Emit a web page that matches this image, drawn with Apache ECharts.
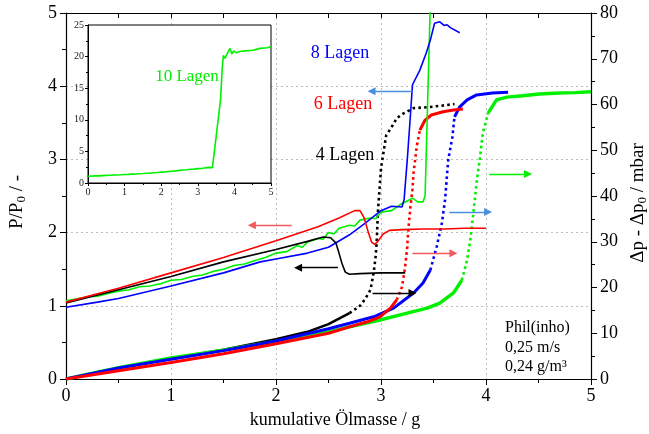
<!DOCTYPE html>
<html>
<head>
<meta charset="utf-8">
<script src="https://cdn.jsdelivr.net/npm/echarts@6/dist/echarts.min.js"></script>
<style>html,body{margin:0;padding:0;background:#fff}#c{width:649px;height:434px}</style>
</head>
<body>
<div id="c"></div>
<script>
// Cumulative oil mass [g] vs. relative penetration P/P0 (left axis) and
// pressure-drop increase [mbar] (right axis) for 4, 6, 8 and 10 layers.

const xTicks = [0, 1, 2, 3, 4, 5];
const leftTicks = [0, 1, 2, 3, 4, 5];
const rightTicks = [0, 10, 20, 30, 40, 50, 60, 70, 80];

// P/P0 curves
const penetr4 = [[0,1.04],[0.5,1.22],[1,1.4],[1.5,1.6],[2,1.77],[2.3,1.88],[2.45,1.94],[2.52,1.93],[2.57,1.86],[2.6,1.72],[2.63,1.57],[2.66,1.46],[2.7,1.43],[2.8,1.44],[3.0,1.45],[3.23,1.45]];
const penetr6 = [[0,1.05],[0.5,1.24],[1,1.45],[1.5,1.66],[2,1.89],[2.4,2.08],[2.6,2.2],[2.75,2.3],[2.8,2.3],[2.84,2.2],[2.88,2.0],[2.91,1.87],[2.94,1.84],[2.97,1.88],[3.02,1.98],[3.08,2.03],[3.2,2.04],[3.4,2.05],[3.6,2.05],[3.8,2.06],[4.0,2.06]];
const penetr8 = [[0,0.98],[0.3,1.05],[0.5,1.1],[1,1.27],[1.5,1.45],[1.85,1.6],[2,1.64],[2.3,1.72],[2.5,1.8],[2.7,1.97],[2.85,2.13],[3.0,2.3],[3.1,2.36],[3.2,2.35],[3.22,2.45],[3.25,2.99],[3.28,3.6],[3.3,4.02],[3.37,4.22],[3.43,4.45],[3.47,4.63],[3.51,4.86],[3.56,4.88],[3.6,4.83],[3.63,4.84],[3.66,4.8],[3.75,4.73]];
const penetr10 = [[0,1.07],[0.2,1.12],[0.3,1.13],[0.4,1.17],[0.5,1.2],[0.6,1.22],[0.7,1.26],[0.8,1.27],[0.9,1.3],[1,1.35],[1.1,1.36],[1.2,1.4],[1.3,1.42],[1.4,1.47],[1.5,1.5],[1.6,1.55],[1.7,1.57],[1.8,1.62],[1.9,1.66],[2.0,1.72],[2.1,1.74],[2.2,1.82],[2.25,1.8],[2.3,1.87],[2.4,1.92],[2.45,1.91],[2.5,2.0],[2.55,1.98],[2.6,2.06],[2.7,2.1],[2.75,2.09],[2.8,2.17],[2.9,2.2],[2.95,2.19],[3.0,2.28],[3.1,2.3],[3.18,2.38],[3.3,2.47],[3.35,2.42],[3.4,2.42],[3.42,2.5],[3.62,13.1],[3.67,18.4],[3.7,20.2],[3.74,19.7],[3.78,19.4],[3.83,20.8],[3.88,21.3],[3.93,20.4],[3.98,20.9],[4.05,20.6],[4.15,20.8],[4.3,20.9],[4.5,21.0],[4.7,21.3],[4.9,21.4],[5,21.6]];

// Δp - Δp0 curves [mbar]
const dp4 = [[0,0],[0.3,1.4],[0.6,2.8],[1,4.5],[1.5,6.4],[2,8.7],[2.3,10.3],[2.5,12.0],[2.7,14.4],[2.8,16],[2.85,17.5],[2.9,19.5],[2.93,23.2],[2.95,27],[2.96,30.4],[2.97,36.3],[2.99,42.8],[3.0,46],[3.02,49],[3.05,53.3],[3.1,55],[3.15,57],[3.21,58],[3.31,59.2],[3.44,59.4],[3.56,59.7],[3.7,60.1]];
const dp6 = [[0,0],[0.5,1.8],[1,3.6],[1.5,5.5],[2,7.7],[2.5,10],[2.7,11.4],[2.87,12.5],[2.99,13.6],[3.09,15.5],[3.15,17.3],[3.2,20.1],[3.23,24.5],[3.25,28.9],[3.26,32.6],[3.28,37.6],[3.3,41.5],[3.31,45],[3.34,50.8],[3.37,54.4],[3.42,56.6],[3.48,57.7],[3.59,58.4],[3.69,58.8],[3.78,59]];
const dp8 = [[0,0],[0.5,2.4],[1,4.3],[1.5,6.2],[2,8.3],[2.5,11],[2.7,12.2],[2.93,13.6],[3.12,15.5],[3.31,18.8],[3.4,21],[3.47,23.8],[3.53,28.9],[3.58,34.1],[3.61,39.1],[3.64,47.9],[3.68,52.9],[3.7,57.3],[3.75,59.5],[3.82,61],[3.91,62.1],[4.06,62.5],[4.21,62.7]];
const dp10 = [[0,0],[0.5,2.5],[1,4.6],[1.5,6.3],[2,8.2],[2.5,10.3],[2.7,11.4],[2.99,12.9],[3.25,14.4],[3.44,15.5],[3.56,16.6],[3.69,18.8],[3.77,21.6],[3.82,26],[3.85,30.4],[3.88,36.3],[3.91,42.8],[3.94,47.9],[3.97,53.8],[4.02,58.1],[4.1,61],[4.2,61.6],[4.35,61.9],[4.51,62.3],[4.7,62.5],[4.85,62.6],[5,62.8]];

const FONT = 'Liberation Serif';
const RED = '#ff0000', BLUE = '#0000ff', GREEN = '#00f000', BLACK = '#000000';

// x-range where each pressure curve is drawn as separated dots
const dotRange = { dp4: [2.7, 9], dp6: [3.15, 3.37], dp8: [3.47, 3.7], dp10: [3.77, 4.02] };

// index span [i0, i1] of the points covering the dotted range
function span(arr, r) {
  let i0 = 0, i1 = arr.length - 1;
  for (let i = 0; i < arr.length; i++) if (arr[i][0] <= r[0]) i0 = i;
  for (let i = arr.length - 1; i >= 0; i--) if (arr[i][0] >= r[1]) i1 = i;
  return [i0, i1];
}
function splitSolid(arr, r) {
  const s = span(arr, r);
  return arr.map((p, i) => (i > s[0] && i < s[1]) ? [p[0], null] : p);
}
function splitDots(arr, r) {
  const s = span(arr, r);
  return arr.slice(s[0], s[1] + 1);
}

// direction arrows: [xTail, xHead, y, yAxisIndex, colour, xAxisIndex]
const arrows = [
  [2.15, 1.77, 2.10, 0, '#f05a5a', 0],
  [2.59, 2.21, 1.52, 0, BLACK, 0],
  [3.30, 2.91, 3.93, 0, '#4a8fe0', 0],
  [3.30, 3.69, 27.5, 1, '#f05a5a', 0],
  [2.92, 3.30, 18.8, 1, BLACK, 0],
  [3.65, 4.02, 36.5, 1, '#4a8fe0', 0],
  [4.03, 4.40, 44.8, 1, GREEN, 0],
  [3.26, 2.16, 11.55, 2, GREEN, 2]
];

function leftLine(data, color) {
  return {
    type: 'line', xAxisIndex: 0, yAxisIndex: 0, data, showSymbol: false,
    lineStyle: { color, width: 1.6 }, itemStyle: { color }, clip: true, z: 3
  };
}
function rightLine(data, color, width) {
  return {
    type: 'line', xAxisIndex: 0, yAxisIndex: 1, data, showSymbol: false, connectNulls: false,
    lineStyle: { color, width }, itemStyle: { color }, clip: true, z: 2
  };
}
function rightDots(data, color) {
  return {
    type: 'line', xAxisIndex: 0, yAxisIndex: 1, data, showSymbol: false,
    lineStyle: { color, width: 2.6, type: [2.6, 3.2], cap: 'butt' }, itemStyle: { color }, clip: true, z: 2
  };
}

const series = [
  rightLine(splitSolid(dp4, dotRange.dp4), BLACK, 2.6),
  rightDots(splitDots(dp4, dotRange.dp4), BLACK),
  rightLine(splitSolid(dp10, dotRange.dp10), GREEN, 3.4),
  rightDots(splitDots(dp10, dotRange.dp10), GREEN),
  rightLine(splitSolid(dp8, dotRange.dp8), BLUE, 3),
  rightDots(splitDots(dp8, dotRange.dp8), BLUE),
  rightLine(splitSolid(dp6, dotRange.dp6), RED, 3),
  rightDots(splitDots(dp6, dotRange.dp6), RED),
  leftLine(penetr10, GREEN),
  leftLine(penetr8, BLUE),
  leftLine(penetr4, BLACK),
  leftLine(penetr6, RED),
  {
    type: 'line', xAxisIndex: 2, yAxisIndex: 2, data: penetr10, showSymbol: false,
    lineStyle: { color: GREEN, width: 1.6 }, z: 12
  }
];

arrows.forEach(a => {
  const inset = a[5] === 2;
  series.push({
    type: 'line', xAxisIndex: a[5], yAxisIndex: a[3], data: [], z: inset ? 13 : 4,
    markLine: {
      silent: true, animation: false, symbol: ['none', 'triangle'], symbolSize: 8,
      label: { show: false },
      lineStyle: { color: a[4], width: 1.3, type: 'solid', opacity: 1 },
      itemStyle: { color: a[4] },
      data: [[{ coord: [a[0], a[2]] }, { coord: [a[1], a[2]] }]]
    }
  });
});

const tickLabel = { color: '#000', fontFamily: FONT, fontSize: 18 };
const dotted = { show: true, lineStyle: { color: '#bdbdbd', width: 1, type: [2, 3] } };

const option = {
  animation: false,
  backgroundColor: '#fff',
  grid: [
    { left: 66, right: 58, top: 13, bottom: 55, z: 0 },
    { left: 88, top: 25, width: 183, height: 158, show: true, backgroundColor: '#fff', borderColor: '#000', borderWidth: 1, z: 10 }
  ],
  xAxis: [
    {
      gridIndex: 0, type: 'value', min: xTicks[0], max: xTicks[xTicks.length - 1], interval: 1, position: 'bottom',
      axisLine: { show: true, onZero: false, lineStyle: { color: '#000', width: 1.2 } },
      axisTick: { show: true, length: 6, lineStyle: { color: '#000' } },
      minorTick: { show: true, splitNumber: 2, length: 4, lineStyle: { color: '#000' } },
      axisLabel: Object.assign({ margin: 8 }, tickLabel),
      splitLine: dotted
    },
    {
      gridIndex: 0, type: 'value', min: 0, max: 5, interval: 0.5, position: 'top',
      axisLine: { show: true, onZero: false, lineStyle: { color: '#000', width: 1.2 } },
      axisTick: { show: true, inside: true, length: 5, lineStyle: { color: '#000' } },
      axisLabel: { show: false }, splitLine: { show: false }
    },
    {
      gridIndex: 1, type: 'value', min: 0, max: 5, interval: 1, z: 11,
      axisLine: { show: true, onZero: false, lineStyle: { color: '#000', width: 1 } },
      axisTick: { show: true, length: 3, lineStyle: { color: '#000' } },
      minorTick: { show: true, splitNumber: 2, length: 2, lineStyle: { color: '#000' } },
      axisLabel: { color: '#222', fontFamily: FONT, fontSize: 10, margin: 4 },
      splitLine: { show: false }
    }
  ],
  yAxis: [
    {
      gridIndex: 0, type: 'value', min: leftTicks[0], max: leftTicks[leftTicks.length - 1], interval: 1, position: 'left',
      axisLine: { show: true, onZero: false, lineStyle: { color: '#000', width: 1.2 } },
      axisTick: { show: true, length: 6, lineStyle: { color: '#000' } },
      minorTick: { show: true, splitNumber: 2, length: 4, lineStyle: { color: '#000' } },
      axisLabel: Object.assign({ margin: 9 }, tickLabel),
      splitLine: dotted
    },
    {
      gridIndex: 0, type: 'value', min: rightTicks[0], max: rightTicks[rightTicks.length - 1], interval: 10, position: 'right',
      axisLine: { show: true, onZero: false, lineStyle: { color: '#000', width: 1.2 } },
      axisTick: { show: true, length: 6, lineStyle: { color: '#000' } },
      minorTick: { show: true, splitNumber: 2, length: 4, lineStyle: { color: '#000' } },
      axisLabel: Object.assign({ margin: 9 }, tickLabel),
      splitLine: { show: false }
    },
    {
      gridIndex: 1, type: 'value', min: 0, max: 25, interval: 5, z: 11,
      axisLine: { show: true, onZero: false, lineStyle: { color: '#000', width: 1 } },
      axisTick: { show: true, length: 3, lineStyle: { color: '#000' } },
      minorTick: { show: true, splitNumber: 2, length: 2, lineStyle: { color: '#000' } },
      axisLabel: { color: '#222', fontFamily: FONT, fontSize: 10, margin: 4 },
      splitLine: { show: false }
    }
  ],
  series,
  graphic: [
    { type: 'text', x: 335, y: 420, z: 20, style: { text: 'kumulative Ölmasse / g', font: '18px "Liberation Serif"', fill: '#000', align: 'center', verticalAlign: 'middle' } },
    { type: 'text', x: 17, y: 202, rotation: Math.PI / 2, z: 20, style: {
      text: '{a|P/P}{s|0}{a| / -}', align: 'center', verticalAlign: 'middle',
      rich: { a: { fontFamily: FONT, fontSize: 19, fill: '#000', lineHeight: 22 }, s: { fontFamily: FONT, fontSize: 13, fill: '#000', lineHeight: 12, verticalAlign: 'bottom' } } } },
    { type: 'text', x: 638, y: 203, rotation: Math.PI / 2, z: 20, style: {
      text: '{a|Δp - Δp}{s|0}{a| / mbar}', align: 'center', verticalAlign: 'middle',
      rich: { a: { fontFamily: FONT, fontSize: 19, fill: '#000', lineHeight: 22 }, s: { fontFamily: FONT, fontSize: 13, fill: '#000', lineHeight: 12, verticalAlign: 'bottom' } } } },
    { type: 'text', x: 340, y: 53, z: 20, style: { text: '8 Lagen', font: '18px "Liberation Serif"', fill: BLUE, align: 'center', verticalAlign: 'middle' } },
    { type: 'text', x: 343, y: 104, z: 20, style: { text: '6 Lagen', font: '18px "Liberation Serif"', fill: RED, align: 'center', verticalAlign: 'middle' } },
    { type: 'text', x: 345, y: 155, z: 20, style: { text: '4 Lagen', font: '18px "Liberation Serif"', fill: BLACK, align: 'center', verticalAlign: 'middle' } },
    { type: 'text', x: 187, y: 77, z: 20, style: { text: '10 Lagen', font: '17px "Liberation Serif"', fill: GREEN, align: 'center', verticalAlign: 'middle' } },
    { type: 'text', x: 505, y: 328, z: 20, style: { text: 'Phil(inho)', font: '16px "Liberation Serif"', fill: '#000', verticalAlign: 'middle' } },
    { type: 'text', x: 505, y: 348, z: 20, style: { text: '0,25 m/s', font: '16px "Liberation Serif"', fill: '#000', verticalAlign: 'middle' } },
    { type: 'text', x: 505, y: 367, z: 20, style: { text: '0,24 g/m³', font: '16px "Liberation Serif"', fill: '#000', verticalAlign: 'middle' } }
  ]
};

const chart = echarts.init(document.getElementById('c'), null, { renderer: 'canvas' });
chart.setOption(option);
</script>
</body>
</html>
